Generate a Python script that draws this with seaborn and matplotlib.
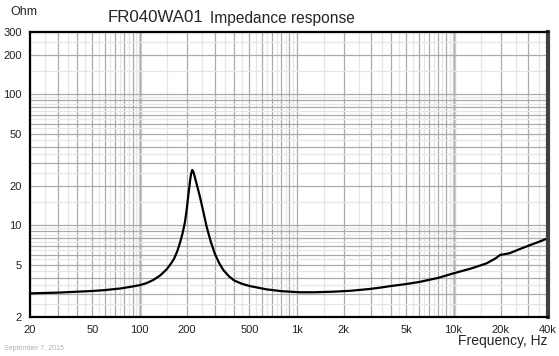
import pandas as pd
import matplotlib.pyplot as plt
import matplotlib.ticker as mticker
import seaborn as sns

# impedance curve (Hz, Ohm)
FREQ = [20, 30, 40, 50, 60, 75, 90, 100, 110, 122, 135, 148, 158, 166, 174,
        182, 188, 194, 199, 203, 207, 210, 213, 216, 219, 223, 230, 242, 255,
        267, 283, 301, 320, 341, 370, 400, 450, 500, 645, 800, 1045, 1300,
        1700, 2200, 2900, 3400, 4000, 5000, 6100, 8000, 10000, 13000, 16200,
        18500, 19800, 22800, 26000, 30000, 35000, 40000]
OHM = [3.03, 3.07, 3.12, 3.16, 3.21, 3.3, 3.42, 3.5, 3.62, 3.83, 4.15, 4.6,
       5.1, 5.6, 6.4, 7.6, 8.8, 10.5, 13.0, 16.0, 19.5, 22.5, 25.0, 26.5,
       26.0, 24.2, 21.0, 16.6, 12.6, 9.8, 7.6, 6.1, 5.2, 4.57, 4.1, 3.8,
       3.58, 3.45, 3.25, 3.15, 3.09, 3.09, 3.12, 3.17, 3.27, 3.35, 3.45,
       3.57, 3.71, 3.98, 4.31, 4.7, 5.13, 5.6, 5.95, 6.14, 6.55, 7.0, 7.5, 8.0]

X_LABELS = {20: "20", 50: "50", 100: "100", 200: "200", 500: "500", 1000: "1k",
            2000: "2k", 5000: "5k", 10000: "10k", 20000: "20k", 40000: "40k"}
Y_LABELS = {2: "2", 5: "5", 10: "10", 20: "20", 50: "50", 100: "100", 200: "200", 300: "300"}

sns.set_style("white")
plt.rcParams["font.family"] = ["Liberation Sans", "DejaVu Sans"]

df = pd.DataFrame({"freq": FREQ, "ohm": OHM})

fig = plt.figure(figsize=(5.59, 3.56), dpi=100)
ax = fig.add_axes([30 / 559, 39 / 356, 518 / 559, 285 / 356])
ax.set_xscale("log")
ax.set_yscale("log")
ax.set_xlim(20, 40000)
ax.set_ylim(2, 300)

x_major = [k * d for d in (10, 100, 1000, 10000) for k in range(1, 10) if 20 <= k * d <= 40000]
x_minor = [(k + 0.5) * d for d in (10, 100, 1000, 10000) for k in range(1, 10) if 20 <= (k + 0.5) * d <= 40000]
y_major = [k * d for d in (1, 10, 100) for k in range(1, 10) if 2 <= k * d <= 300]
y_minor = [(k + 0.5) * d for d in (1, 10, 100) for k in range(1, 10) if 2 <= (k + 0.5) * d <= 300]

ax.xaxis.set_major_locator(mticker.FixedLocator(x_major))
ax.xaxis.set_minor_locator(mticker.FixedLocator(x_minor))
ax.xaxis.set_major_formatter(mticker.FixedFormatter([X_LABELS.get(v, "") for v in x_major]))
ax.xaxis.set_minor_formatter(mticker.NullFormatter())
ax.yaxis.set_major_locator(mticker.FixedLocator(y_major))
ax.yaxis.set_minor_locator(mticker.FixedLocator(y_minor))
ax.yaxis.set_major_formatter(mticker.FixedFormatter([Y_LABELS.get(v, "") for v in y_major]))
ax.yaxis.set_minor_formatter(mticker.NullFormatter())

ax.grid(True, which="major", color="#ababab", linewidth=0.9)
ax.grid(True, which="minor", color="#e6e6e6", linewidth=0.9)
for v in (100, 10000):
    ax.axvline(v, color="#d6d6d6", linewidth=2.5, zorder=0.5)
ax.set_axisbelow(True)

sns.lineplot(data=df, x="freq", y="ohm", ax=ax, color="black", linewidth=1.6)

ax.tick_params(which="both", length=0, labelsize=8, colors="#222222", pad=6)
ax.set_xlabel("")
ax.set_ylabel("")
for side in ("left", "bottom", "top"):
    ax.spines[side].set_color("black")
    ax.spines[side].set_linewidth(1.6)
ax.spines["right"].set_color("#404040")
ax.spines["right"].set_linewidth(3)

fig.text(108 / 559, 1 - 18 / 356, "FR040WA01", fontsize=12.2, va="center", ha="left")
fig.text(210 / 559, 1 - 18 / 356, "Impedance response", fontsize=11.2, va="center", ha="left")
fig.text(10 / 559, 1 - 12 / 356, "Ohm", fontsize=9, va="center", ha="left")
fig.text(547 / 559, 1 - 341 / 356, "Frequency, Hz", fontsize=10, va="center", ha="right")
fig.text(4 / 559, 1 - 349 / 356, "September 7, 2015", fontsize=5, color="#b0b0b0", va="center", ha="left")

fig.savefig("out.png", dpi=100)
